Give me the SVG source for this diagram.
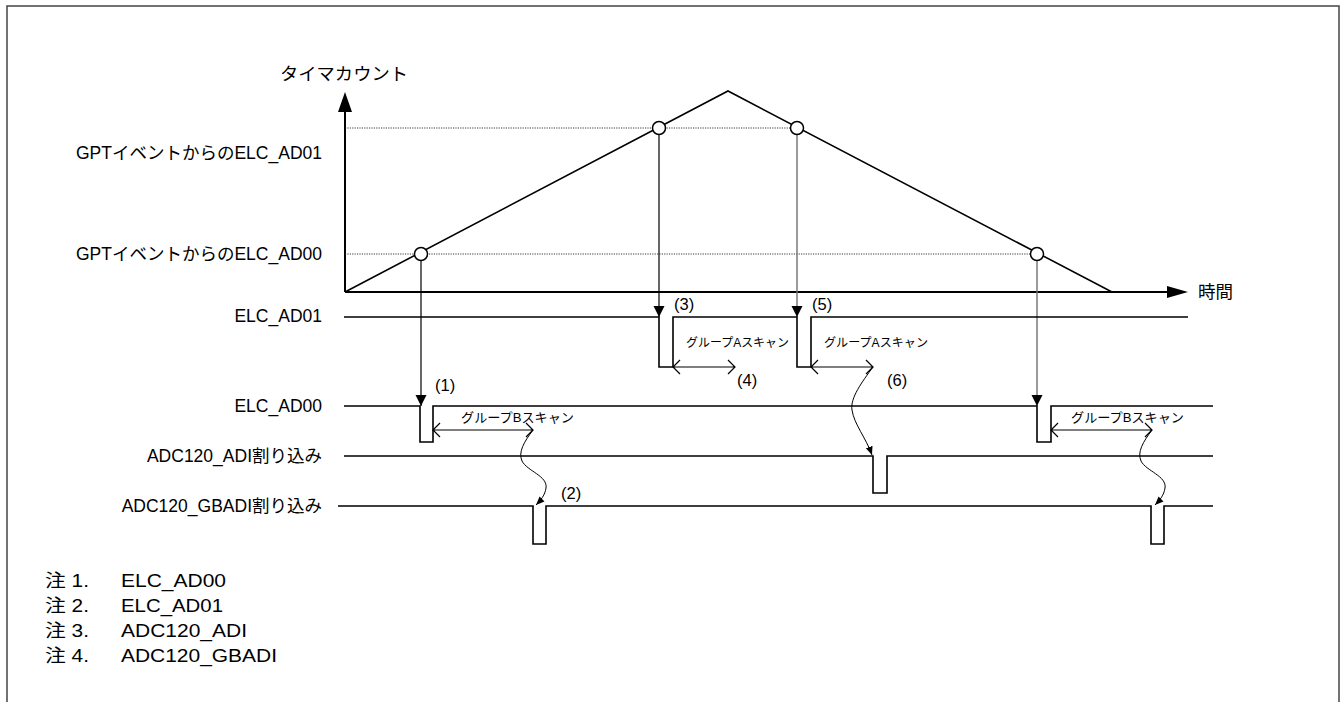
<svg xmlns="http://www.w3.org/2000/svg" width="1343" height="702" viewBox="0 0 1343 702">
<style>
text{font-family:"Liberation Sans",Arial,"Noto Sans CJK JP",sans-serif;fill:#000}
.lbl{font-size:17.5px}
.num{font-size:16.5px}
.scan{font-size:12px}
.scanB{font-size:13px}
.note{font-size:18px}
.w{fill:none;stroke:#000;stroke-width:1.6}
.ax{fill:none;stroke:#000;stroke-width:2}
.dot{fill:none;stroke:#222;stroke-width:0.9;stroke-dasharray:1.2 1.2}
.va{fill:none;stroke:#000;stroke-width:1.2}
.vg{fill:none;stroke:#707070;stroke-width:1.4}
.ch{fill:none;stroke:#000;stroke-width:1.2}
.cv{fill:none;stroke:#000;stroke-width:1}
.pt{fill:#fff;stroke:#000;stroke-width:1.5}
</style>
<defs>
<marker id="ah" markerUnits="userSpaceOnUse" markerWidth="12" markerHeight="12" viewBox="0 0 12 12" refX="11" refY="6" orient="auto"><path d="M0,0.5 L11,6 L0,11.5 Z" fill="#000"/></marker>
<marker id="sh" markerUnits="userSpaceOnUse" markerWidth="9" markerHeight="9" viewBox="0 0 9 9" refX="8.5" refY="4.5" orient="auto"><path d="M0,1 L8.5,4.5 L0,8 Z" fill="#000"/></marker>
</defs>
<rect x="7" y="6" width="1332" height="720" fill="none" stroke="#444" stroke-width="1.5"/>

<g id="axes">
<line class="ax" x1="345" y1="292" x2="345" y2="112"/>
<polygon points="338,112 352,112 345,92" fill="#000"/>
<line class="ax" x1="345" y1="292" x2="1168" y2="292"/>
<polygon points="1167,286 1167,298 1188,292" fill="#000"/>
<text class="lbl" x="280" y="80" textLength="128" lengthAdjust="spacingAndGlyphs">タイマカウント</text>
<text class="lbl" x="1198" y="298">時間</text>
</g>

<g id="thresholds">
<line class="dot" x1="345" y1="128" x2="797" y2="128"/>
<line class="dot" x1="345" y1="254" x2="1040" y2="254"/>
<text class="lbl" x="322" y="159" text-anchor="end">GPTイベントからのELC_AD01</text>
<text class="lbl" x="322" y="260" text-anchor="end">GPTイベントからのELC_AD00</text>
</g>

<g id="timer-count">
<polyline class="w" points="345,292 728,91 1112,292"/>
</g>

<g id="connectors">
<line class="va" x1="421" y1="260" x2="421" y2="406" marker-end="url(#ah)"/>
<line class="va" x1="659" y1="134" x2="659" y2="317" marker-end="url(#ah)"/>
<line class="vg" x1="797" y1="134" x2="797" y2="317" marker-end="url(#ah)"/>
<line class="vg" x1="1037" y1="260" x2="1037" y2="406" marker-end="url(#ah)"/>
<path class="cv" d="M533,430 C524,442 518,452 522,461 C527,471 548,476 546,488 C545,495 541,500 536,505" marker-end="url(#sh)"/>
<path class="cv" d="M1152,430 C1143,442 1137,452 1141,461 C1146,471 1167,476 1165,488 C1164,495 1160,500 1155,505" marker-end="url(#sh)"/>
<path class="cv" d="M873,367 C862,382 850,398 852,410 C854,424 866,438 872,455" marker-end="url(#sh)"/>
</g>

<g id="points">
<circle class="pt" cx="421" cy="254" r="6.5"/>
<circle class="pt" cx="659" cy="128" r="6.5"/>
<circle class="pt" cx="797" cy="128" r="6.5"/>
<circle class="pt" cx="1037" cy="254" r="6.5"/>
</g>

<g id="sig-elc-ad01">
<text class="lbl" x="322" y="322" text-anchor="end">ELC_AD01</text>
<polyline class="w" points="344,317 659,317 659,367 673,367 673,317 797,317 797,367 811,367 811,317 1188,317"/>
<path class="ch" d="M673,367 H735 M680,360 L673,367 L680,374 M728,360 L735,367 L728,374"/>
<path class="ch" d="M811,367 H873 M818,360 L811,367 L818,374 M866,360 L873,367 L866,374"/>
<text class="num" x="674" y="310">(3)</text>
<text class="num" x="737" y="386">(4)</text>
<text class="num" x="812" y="310">(5)</text>
<text class="num" x="887" y="386">(6)</text>
<text class="scan" x="686" y="347" textLength="103" lengthAdjust="spacingAndGlyphs">グループAスキャン</text>
<text class="scan" x="824" y="347" textLength="104" lengthAdjust="spacingAndGlyphs">グループAスキャン</text>
</g>

<g id="sig-elc-ad00">
<text class="lbl" x="322" y="412" text-anchor="end">ELC_AD00</text>
<polyline class="w" points="344,406 420,406 420,442 433,442 433,406 1037,406 1037,442 1051,442 1051,406 1213,406"/>
<path class="ch" d="M433,430 H533 M440,423 L433,430 L440,437 M526,423 L533,430 L526,437"/>
<path class="ch" d="M1051,430 H1152 M1058,423 L1051,430 L1058,437 M1145,423 L1152,430 L1145,437"/>
<text class="num" x="435" y="391">(1)</text>
<text class="scanB" x="461" y="422" textLength="113" lengthAdjust="spacingAndGlyphs">グループBスキャン</text>
<text class="scanB" x="1071" y="422" textLength="113" lengthAdjust="spacingAndGlyphs">グループBスキャン</text>
</g>

<g id="sig-adi">
<text class="lbl" x="322" y="462" text-anchor="end">ADC120_ADI割り込み</text>
<polyline class="w" points="344,456 873,456 873,493 887,493 887,456 1213,456"/>
</g>

<g id="sig-gbadi">
<text class="lbl" x="322" y="512" text-anchor="end">ADC120_GBADI割り込み</text>
<polyline class="w" points="338,506 533,506 533,544 546,544 546,506 1151,506 1151,544 1164,544 1164,506 1213,506"/>
<text class="num" x="561" y="499">(2)</text>
</g>

<g id="notes">
<text class="note" x="45" y="587" textLength="44" lengthAdjust="spacingAndGlyphs">注 1.</text>
<text class="note" x="121" y="587" textLength="105" lengthAdjust="spacingAndGlyphs">ELC_AD00</text>
<text class="note" x="45" y="612" textLength="44" lengthAdjust="spacingAndGlyphs">注 2.</text>
<text class="note" x="121" y="612" textLength="102" lengthAdjust="spacingAndGlyphs">ELC_AD01</text>
<text class="note" x="45" y="637" textLength="44" lengthAdjust="spacingAndGlyphs">注 3.</text>
<text class="note" x="121" y="637" textLength="126" lengthAdjust="spacingAndGlyphs">ADC120_ADI</text>
<text class="note" x="45" y="662" textLength="44" lengthAdjust="spacingAndGlyphs">注 4.</text>
<text class="note" x="121" y="662" textLength="156" lengthAdjust="spacingAndGlyphs">ADC120_GBADI</text>
</g>
</svg>
